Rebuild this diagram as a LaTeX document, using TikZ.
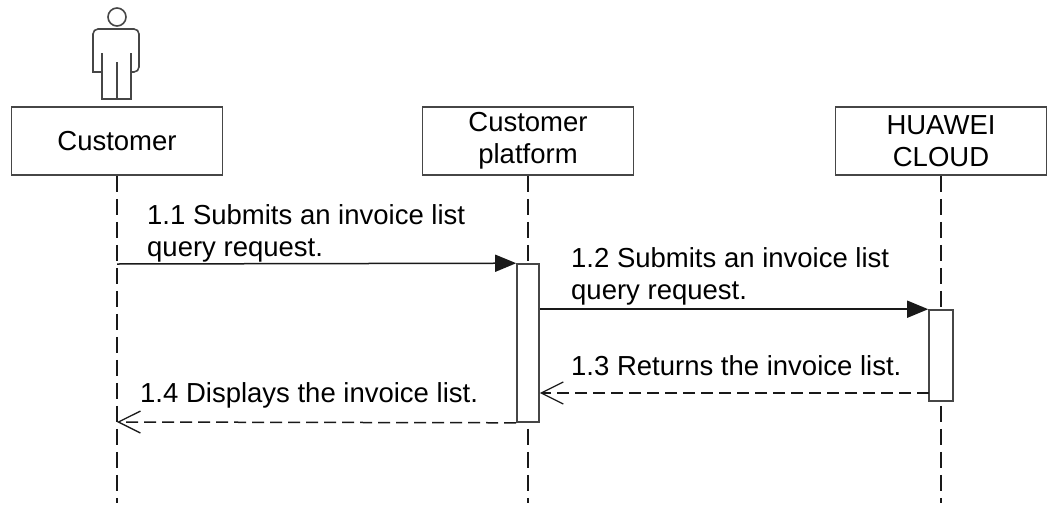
\documentclass[tikz,border=0pt]{standalone}
\usepackage{fontspec}
\setmainfont{Liberation Sans}
\usetikzlibrary{arrows.meta}
\definecolor{linegray}{RGB}{70,70,70}
\definecolor{linedark}{RGB}{25,25,25}

\begin{document}
\begin{tikzpicture}[x=1pt,y=-1pt]
        \tikzset{lane/.style = {shape=rectangle,draw=linegray,line width=1.8pt,minimum width=211pt,minimum height=68pt,align=center,font=\fontsize{27.5}{32}\selectfont}}
        \tikzset{act/.style = {shape=rectangle,draw=linegray,fill=white,line width=1.6pt,inner sep=0pt}}
        \tikzset{life/.style = {draw=linedark,line width=1.5pt,dash pattern=on 16pt off 7pt}}
        \tikzset{msg/.style = {-{Triangle[length=21pt,width=17pt]},line width=1.5pt,draw=linedark}}
        \tikzset{ret/.style = {-{Straight Barb[length=22pt,width=22pt,line width=1.3pt]},line width=1.5pt,draw=linedark,dash pattern=on 12pt off 6pt}}
        \tikzset{lbl/.style = {inner sep=0pt,align=left,font=\fontsize{27.5}{32}\selectfont}}
        \useasboundingbox (0,0) rectangle (1048,506);
        % actor
        \draw[linegray,line width=1.6pt] (117,17) circle (9);
        \draw[linegray,line width=1.6pt] (102,72) -- (93,72) [rounded corners=5pt] -- (93,29) -- (139,29) -- (139,72) [sharp corners] -- (131,72) -- (131,99) -- (102,99) -- cycle;
        \draw[linegray,line width=1.6pt] (102,53) -- (102,72) (131,53) -- (131,72) (117,62) -- (117,99);
        % lanes
        \node[lane] (cust) at (117,141) {Customer};
        \node[lane] (plat) at (528,141) {Customer\\platform};
        \node[lane] (hw) at (941,141) {HUAWEI\\CLOUD};
        % lifelines
        \coordinate (custend) at (117,503);
        \coordinate (platend) at (528,503);
        \coordinate (hwend) at (941,503);
        \draw[life] (cust.south) -- (custend);
        \draw[life] (plat.south) -- (platend);
        \draw[life] (hw.south) -- (hwend);
        % activations
        \node[act,minimum width=22pt,minimum height=158pt] (platact) at (528,343) {};
        \node[act,minimum width=24pt,minimum height=91pt] (hwact) at (941,355.5) {};
        % messages
        \coordinate (c1) at (117,264);
        \coordinate (c3) at (929,393);
        \coordinate (c4) at (117,422);
        \draw[msg] (c1) -- (platact.north west);
        \draw[msg] (platact.east |- hwact.north west) -- (hwact.north west);
        \draw[ret] (c3) -- (platact.east |- c3);
        \draw[ret] (platact.south west) -- (c4);
        % labels
        \node[lbl,anchor=south west] (m1) at (147,262) {1.1 Submits an invoice list\\query request.};
        \node[lbl,anchor=south west] (m2) at (571,305) {1.2 Submits an invoice list\\query request.};
        \node[lbl,anchor=base west] (m3) at (571,375) {1.3 Returns the invoice list.};
        \node[lbl,anchor=base west] (m4) at (140,402) {1.4 Displays the invoice list.};
\end{tikzpicture}
\end{document}
